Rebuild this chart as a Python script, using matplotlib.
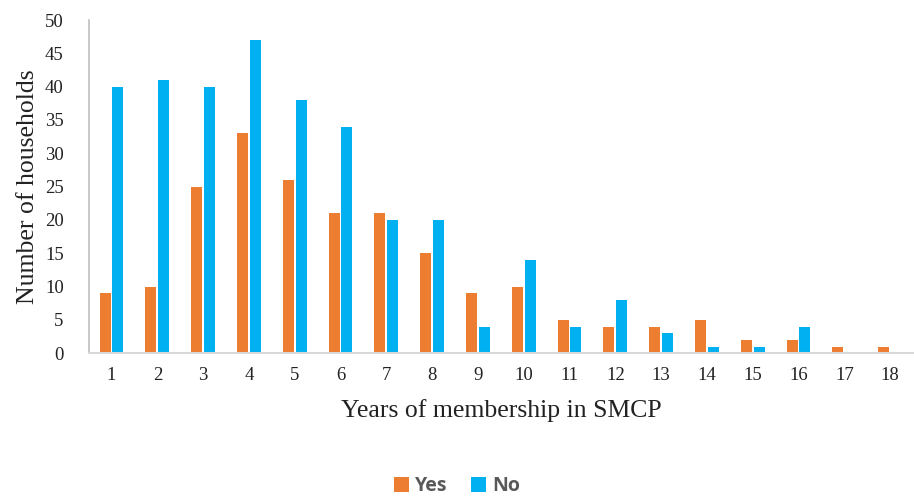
import matplotlib
matplotlib.use("Agg")
import matplotlib.pyplot as plt
import numpy as np

years = list(range(1, 19))
yes_vals = [9, 10, 25, 33, 26, 21, 21, 15, 9, 10, 5, 4, 4, 5, 2, 2, 1, 1]
no_vals = [40, 41, 40, 47, 38, 34, 20, 20, 4, 14, 4, 8, 3, 1, 1, 4, 0, 0]

fig = plt.figure(figsize=(9.14, 5.01), dpi=100)
ax = fig.add_axes([0.097, 0.295, 0.902, 0.665])

x = np.array(years)
w = 0.24
ax.bar(x - w / 2 - 0.02, yes_vals, width=w, color="#ED7D31", label="Yes")
ax.bar(x + w / 2 + 0.02, no_vals, width=w, color="#00B0F0", label="No")

ax.set_xlim(0.5, 18.5)
ax.set_ylim(0, 50)
ax.set_yticks(range(0, 51, 5))
ax.set_xticks(x)
ax.set_xticklabels([str(v) for v in years])

serif = "Liberation Serif"
for lab in ax.get_xticklabels() + ax.get_yticklabels():
    lab.set_fontfamily(serif)
    lab.set_fontsize(13.5)
    lab.set_color("#222222")
ax.tick_params(axis="both", length=0)
ax.tick_params(axis="y", pad=18)
ax.tick_params(axis="x", pad=10)

for s in ["top", "right"]:
    ax.spines[s].set_visible(False)
ax.spines["left"].set_color("#BFBFBF")
ax.spines["bottom"].set_color("#D9D9D9")
ax.spines["left"].set_linewidth(1.2)
ax.spines["bottom"].set_linewidth(1.5)

ax.set_xlabel("Years of membership in SMCP", fontfamily=serif, fontsize=18.5, color="#222222", labelpad=11)
ax.set_ylabel("Number of households", fontfamily=serif, fontsize=18.5, color="#222222", labelpad=4)

leg = fig.legend(loc="lower center", bbox_to_anchor=(0.5, -0.025), ncol=2, frameon=False,
                 prop={"family": "Open Sans", "weight": "bold", "size": 14},
                 handlelength=0.8, handleheight=0.8, handletextpad=0.3, columnspacing=1.2)
for t in leg.get_texts():
    t.set_color("#595959")

fig.savefig("out.png", dpi=100)
